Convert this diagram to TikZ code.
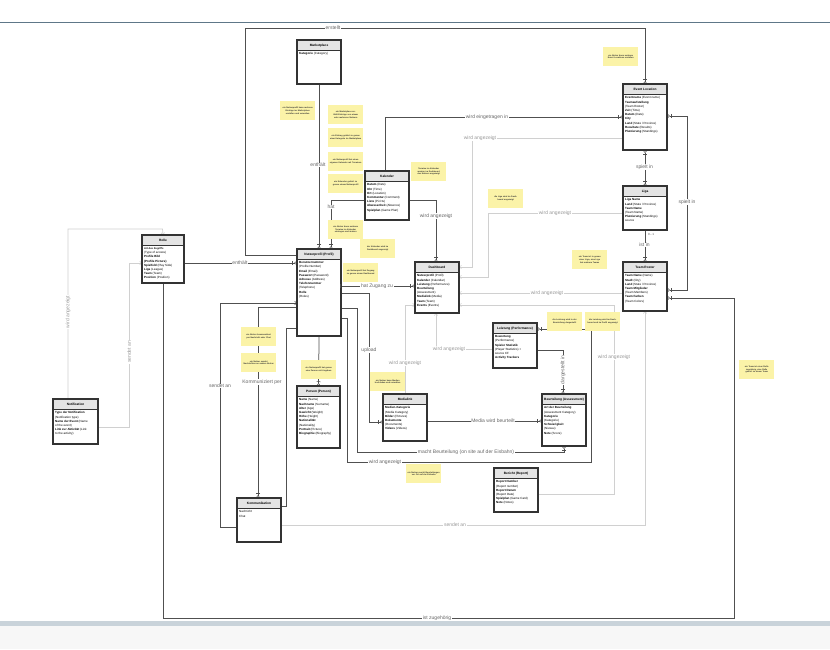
\documentclass[tikz,border=0pt]{standalone}
\usepackage{fontspec}
\setmainfont{Liberation Sans}
\usetikzlibrary{calc,arrows.meta}
\definecolor{hdrgray}{HTML}{E4E4E4}
\definecolor{notey}{HTML}{FBF3A8}
\definecolor{lnk}{HTML}{505050}
\definecolor{glnk}{HTML}{D0D0D0}
\definecolor{topline}{HTML}{5E7788}
\definecolor{band}{HTML}{C9D3DA}
\tikzset{
  tbar/.tip={Bar[width=4pt,line width=0.5pt]},
  tcrow/.tip={Bar[width=4pt,line width=0.5pt,sep=1.2pt] Straight Barb[reversed,length=2.2pt,width=4pt,line width=0.5pt]},
  tarr/.tip={Straight Barb[length=2pt,width=3.5pt,line width=0.5pt]},
}
\newcommand\entbox[7]{%
  \node[entity,minimum width=#4pt,minimum height=#5pt,anchor=north west] (#1) at (#2,#3) {};
  \node[enthead,minimum width=#4pt,anchor=north west] (#1-h) at (#1.north west) {#6};
  \node[entbody,anchor=north west] (#1-b) at ($(#1.north west)+(2,12.5)$) {#7};
}
\newcommand\stickynote[4]{\node[notebox,anchor=north west] (#1) at (#2,#3) {#4};}
\begin{document}
\begin{tikzpicture}[x=1pt,y=-1pt,
  rel/.style={draw=lnk,line width=0.75pt},
  grel/.style={draw=glnk,line width=0.7pt},
  lbl/.style={font=\fontsize{5}{6}\selectfont,text=black!60,fill=white,inner sep=0.6pt},
  glbl/.style={lbl,text=black!40},
  entity/.style={draw=black!80,line width=1.1pt,fill=white,inner sep=0pt},
  enthead/.style={draw=black!80,line width=1.1pt,fill=hdrgray,inner sep=0pt,minimum height=10pt,font=\fontsize{3.2}{3.6}\selectfont\bfseries},
  entbody/.style={inner sep=0pt,align=left,font=\fontsize{3}{4.2}\selectfont},
  notebox/.style={fill=notey,inner sep=1pt,minimum width=35pt,minimum height=19pt,text width=32pt,align=center,font=\fontsize{2.1}{2.6}\selectfont\bfseries,text=black!80},
]
\useasboundingbox (0,0) rectangle (830,649);
\fill[white] (0,0) rectangle (830,649);
% page decoration
\draw[topline,line width=0.8pt] (0,22) -- (830,22);
\fill[band] (0,621) rectangle (830,626);
\fill[black!3] (0,626) rectangle (830,649);

% ---------- entities ----------
\entbox{mkt}{297}{40}{43}{43}{Marketplace}{\textbf{Kategorie} (Category)}
\entbox{kal}{365}{171}{43}{48}{Kalender}{\textbf{Datum} (Date)\\\textbf{Uhr} (Time)\\\textbf{Ort} (Location)\\\textbf{Kommentar} (Comment)\\\textbf{Liste} (Pi-Cts)\\\textbf{Abwesenheit} (Absence)\\\textbf{Spielplan} (Game Plan)}
\entbox{evt}{623}{84}{43}{65}{Event Location}{\textbf{Eventname} (Event name)\\\textbf{Teamaufstellung}\\(Team Roster)\\\textbf{Zeit} (Time)\\\textbf{Datum} (Date)\\\textbf{City}\\\textbf{Land} (State / Province)\\\textbf{Resultate} (Results)\\\textbf{Platzierung} (Standings)}
\entbox{liga}{623}{186}{43}{43}{Liga}{\textbf{Liga Name}\\\textbf{Land} (State / Province)\\\textbf{Team Name}\\(Team Name)\\\textbf{Platzierung} (Standings)\\source}
\entbox{team}{623}{262}{43}{48}{Team Roster}{\textbf{Team Name} (Name)\\\textbf{Stadt} (City)\\\textbf{Land} (State / Province)\\\textbf{Team Mitglieder}\\(Team Members)\\\textbf{Team Farben}\\(Team Colors)}
\entbox{rolle}{142}{235}{41}{47}{Rolle}{\fontsize{2.6}{3.3}\selectfont\textbf{Art des Zugriffs}\\(Type of access)\\\textbf{Profile Bild}\\\textbf{(Profile Picture)}\\\textbf{Spielfeld} (Play Side)\\\textbf{Liga} (League)\\\textbf{Team} (Team)\\\textbf{Position} (Position)}
\entbox{nutz}{297}{249}{43}{86}{Nutzerprofil (Profil)}{\textbf{Benutzernummer}\\(Profile Number)\\\textbf{Email} (Email)\\\textbf{Passwort} (Password)\\\textbf{Adresse} (Address)\\\textbf{Telefonnummer}\\(Telephone)\\\textbf{Rolle}\\(Roles)}
\entbox{dash}{415}{262}{43}{50}{Dashboard}{\textbf{Nutzerprofil} (Profil)\\\textbf{Kalender} (Calendar)\\\textbf{Leistung} (Performance)\\\textbf{Beurteilung}\\(Assessment)\\\textbf{Medialink} (Media)\\\textbf{Team} (Team)\\\textbf{Events} (Events)}
\entbox{leist}{493}{323}{43}{44}{Leistung (Performance)}{\textbf{Bewertung}\\(Performance)\\\textbf{Spieler Statistik}\\(Player Statistics) +\\source CF\\\textbf{Activity Trackers}}
\entbox{person}{297}{386}{42}{61}{Person (Person)}{\textbf{Name} (Name)\\\textbf{Nachname} (Surname)\\\textbf{Alter} (Age)\\\textbf{Gewicht} (Weight)\\\textbf{Höhe} (Height)\\\textbf{Nationalität}\\(Nationality)\\\textbf{Portrait} (Picture)\\\textbf{Biographie} (Biography)}
\entbox{media}{383}{394}{43}{46}{Medialink}{\textbf{Medien-Kategorie}\\(Media Category)\\\textbf{Bilder} (Pictures)\\\textbf{Dokumente}\\(Documents)\\\textbf{Videos} (Videos)}
\entbox{beurt}{542}{394}{43}{51}{Beurteilung (Assessment)}{\textbf{Art der Beurteilung}\\(Assessment Category)\\\textbf{Kategorie}\\(Kategorie)\\\textbf{Schwierigkeit}\\(Niveau)\\\textbf{Note} (Score)}
\entbox{bericht}{494}{468}{43}{43}{Bericht (Report)}{\textbf{Report Number}\\(Report number)\\\textbf{Report Datum}\\(Report Date)\\\textbf{Spielplan} (Game Card)\\\textbf{Note} (Notes)}
\entbox{notif}{53}{399}{44}{44}{Notification}{\textbf{Type der Notification}\\(Notification type)\\\textbf{Name der Event} (Name\\of the event)\\\textbf{Link zur Aktivität} (Link\\to the activity)}
\entbox{komm}{237}{498}{43}{43}{Kommunikation}{Nachricht\\Chat}

% ---------- connectors ----------
\draw[rel,tbar-tcrow] ($(nutz.north west)+(0,6)$) -| (245,28) -| (evt.north);
\node[lbl] (l-erst) at (333,28) {erstellt};
\draw[rel,tbar-tcrow] (mkt.south) -- (nutz.north);
\node[lbl] (l-enth1) at (318,165) {enthält};
\draw[rel,tbar-tcrow] ($(kal.north west)+(0,29)$) -| ($(nutz.north west)+(34,0)$);
\node[lbl] (l-hat) at (331,207) {hat};
\draw[rel,tbar-tcrow] ($(kal.north east)+(0,29)$) -| ($(dash.north west)+(21,0)$);
\node[lbl] (l-kd) at (436,216) {wird angezeigt};
\draw[rel,tbar-tcrow] ($(kal.north west)+(20,0)$) |- ($(evt.north west)+(0,33)$);
\node[lbl] (l-eing) at (487,117) {wird eingetragen in};
\draw[grel,tarr-] ($(dash.north east)+(0,5)$) -| (472,138) -- ($(evt.north west)+(0,54)$);
\node[glbl] (l-g1) at (480,138) {wird angezeigt};
\draw[grel,tarr-] ($(dash.north east)+(0,15)$) -| (488,213) -- ($(liga.north west)+(0,27)$);
\node[glbl] (l-g2) at (555,213) {wird angezeigt};
\draw[grel,tarr-] ($(dash.north east)+(0,31)$) -- ($(team.north west)+(0,31)$);
\node[glbl] (l-g3) at (547,293) {wird angezeigt};
\draw[grel,tarr-] ($(dash.north east)+(0,43)$) -| (614,494) -- ($(bericht.north east)+(0,26)$);
\node[glbl] (l-g4) at (614,357) {wird angezeigt};
\draw[grel,-tarr] ($(leist.north west)+(0,26)$) -| ($(dash.south west)+(21,0)$);
\node[glbl] (l-g5) at (449,349) {wird angezeigt};
\draw[grel,tarr-] ($(dash.north west)+(0,43)$) -| ($(media.north west)+(22,0)$);
\node[glbl] (l-g6) at (405,363) {wird angezeigt};
\draw[rel,tbar-tcrow] ($(nutz.north west)+(43,37)$) -- ($(dash.north west)+(0,24)$);
\node[lbl] (l-zug) at (377,286) {hat Zugang zu};
\draw[rel,tbar-tcrow] ($(nutz.north east)+(0,44)$) -| (369,422) -- ($(media.north west)+(0,28)$);
\node[lbl] (l-up) at (369,350) {upload};
\draw[rel,tbar-tcrow] ($(nutz.north east)+(0,59)$) -| (357,452) -| ($(beurt.south west)+(22,0)$);
\node[lbl] (l-macht) at (466,452) {macht Beurteilung (on site auf der Eisbahn)};
\draw[rel,tbar-tcrow] ($(nutz.north east)+(0,69)$) -| (347,462) -| (591,329) -- ($(leist.north east)+(0,6)$);
\node[lbl] (l-wa) at (385,462) {wird angezeigt};
\draw[rel,tbar-tcrow] ($(media.north east)+(0,27)$) -- ($(beurt.north west)+(0,27)$);
\node[lbl] (l-mwb) at (493,421) {Media wird beurteilt};
\draw[rel,tbar-tcrow] ($(leist.north east)+(0,27)$) -| ($(beurt.north west)+(21,0)$);
\node[lbl,rotate=90] (l-darg) at (563,370) {dargestellt in};
\draw[rel,tcrow-tcrow] (evt.south) -- (liga.north);
\node[lbl] (l-sp1) at (644.5,167) {spielt in};
\draw[rel,tcrow-tbar] (team.north) -- (liga.south);
\node[lbl] (l-ist) at (644.5,245) {ist in};
\node[font=\fontsize{3}{3.5}\selectfont,text=black!70] (l-01) at (651,234) {0...1};
\draw[rel,tcrow-tcrow] ($(evt.north east)+(0,32)$) -| (687,290) -- ($(team.north east)+(0,28)$);
\node[lbl] (l-sp2) at (687,202) {spielt in};
\draw[rel,tcrow-tbar] ($(team.north east)+(0,36)$) -| (734,618) -| (rolle.south);
\node[lbl] (l-zug2) at (437,618) {ist zugehörig};
\draw[rel,tbar-tcrow] ($(rolle.north east)+(0,28)$) -- ($(nutz.north west)+(0,14)$);
\node[lbl] (l-enth2) at (240,263) {enthält};
\draw[grel,-tarr] ($(notif.north west)+(15,0)$) |- ($(rolle.north west)+(20.5,-6)$) -- (rolle.north);
\node[glbl,rotate=90] (l-g7) at (68,312) {wird angezeigt};
\draw[grel,-tarr] ($(notif.north east)+(0,28)$) -| (129,263) -- ($(rolle.north west)+(0,28)$);
\node[glbl,rotate=90] (l-g8) at (129,352) {sendet an};
\draw[rel,-tarr] ($(komm.north west)+(0,29)$) -| (220,303) -- ($(nutz.north west)+(0,54)$);
\node[lbl] (l-send) at (220,386) {sendet an};
\draw[rel,tbar-tcrow] ($(nutz.north west)+(0,58)$) -| ($(komm.north west)+(21,0)$);
\node[lbl] (l-komm) at (262,382) {Kommuniziert per};
\draw[rel,tbar-tbar] ($(nutz.north west)+(0,79)$) -| (286,506) -- ($(komm.north east)+(0,8)$);
\draw[grel,-tarr] ($(komm.north east)+(0,27)$) -| (team.south);
\node[glbl] (l-g9) at (455,525) {sendet an};
\draw[rel,tbar-tcrow] (nutz.south) -- (person.north);

% redraw entity borders on top of lines
\foreach \n in {mkt,kal,evt,liga,team,rolle,nutz,dash,leist,person,media,beurt,bericht,notif,komm}{
  \draw[black!80,line width=1.1pt] (\n.north west) rectangle (\n.south east);
}

% ---------- sticky notes ----------
\stickynote{n1}{280}{101}{ein Nutzerprofil kann mehrere Einträge im Marketplace erstellen und verwalten}
\stickynote{n2}{328}{105}{ein Marketplace enthält Einträge von einem oder mehreren Nutzern}
\stickynote{n3}{328}{128}{ein Eintrag gehört zu genau einer Kategorie im Marketplace}
\stickynote{n4}{328}{152}{ein Nutzerprofil hat einen eigenen Kalender mit Terminen}
\stickynote{n5}{328}{174}{ein Kalender gehört zu genau einem Nutzerprofil}
\stickynote{n6}{411}{162}{Termine im Kalender werden im Dashboard des Nutzers angezeigt}
\stickynote{n7}{328}{220}{ein Nutzer kann mehrere Termine im Kalender eintragen und ändern}
\stickynote{n8}{360}{239}{der Kalender wird im Dashboard angezeigt}
\stickynote{n9}{343}{263}{ein Nutzerprofil hat Zugang zu genau einem Dashboard}
\stickynote{n10}{603}{47}{ein Nutzer kann mehrere Event Locations erstellen}
\stickynote{n11}{572}{250}{ein Team ist in genau einer Liga, eine Liga hat mehrere Teams}
\stickynote{n12}{547}{312}{die Leistung wird in der Beurteilung dargestellt}
\stickynote{n13}{585}{312}{die Leistung wird im Dashboard und im Profil angezeigt}
\stickynote{n14}{488}{189}{die Liga wird im Dashboard angezeigt}
\stickynote{n15}{301}{360}{ein Nutzerprofil hat genau eine Person mit Angaben}
\stickynote{n16}{241}{327}{ein Nutzer kommuniziert per Nachricht oder Chat}
\stickynote{n17}{241}{353}{ein Nutzer sendet Nachrichten an andere Nutzer}
\stickynote{n18}{370}{372}{ein Nutzer kann Medien hochladen und verwalten}
\stickynote{n19}{406}{464}{ein Nutzer macht Beurteilungen vor Ort auf der Eisbahn}
\stickynote{n20}{739}{360}{ein Team ist einer Rolle zugehörig, eine Rolle gehört zu einem Team}
\end{tikzpicture}
\end{document}
